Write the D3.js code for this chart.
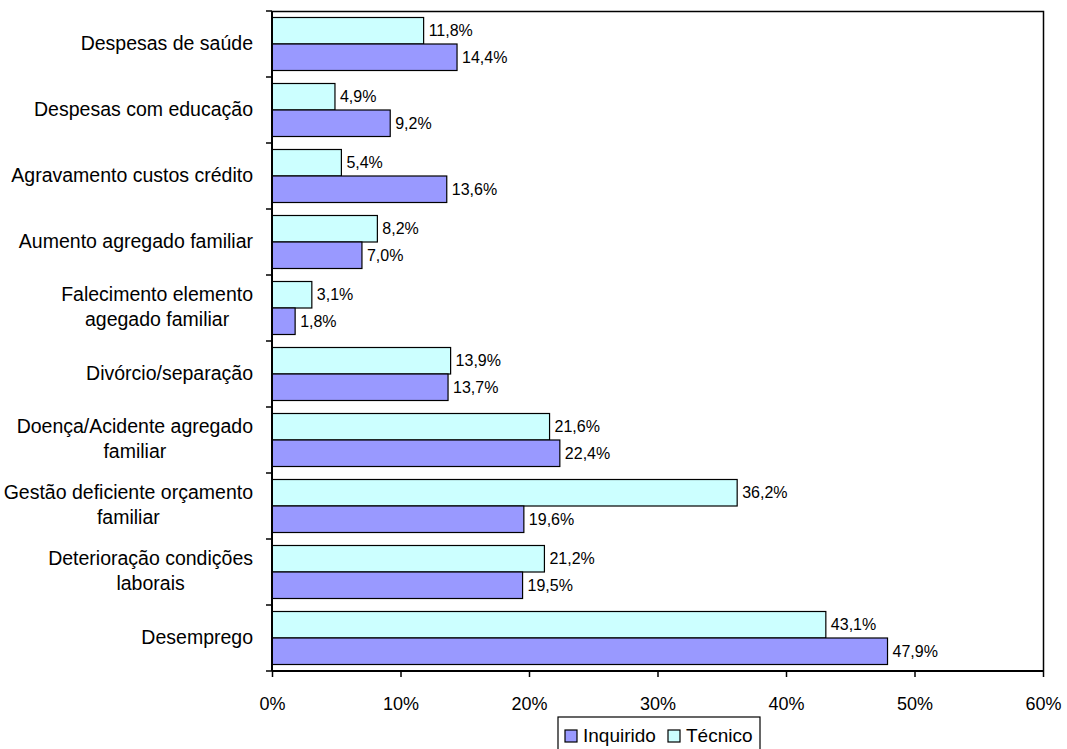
<!DOCTYPE html>
<html>
<head>
<meta charset="utf-8">
<script src="https://cdn.jsdelivr.net/npm/d3@7"></script>
<style>
  body { margin: 0; background: #fff; }
  text { font-family: "Liberation Sans", Arial, sans-serif; fill: #000; }
</style>
</head>
<body>
<div id="chart"></div>
<script>
// categories, top to bottom (label lines)
const categories = [
    ["Despesas de saúde"],
    ["Despesas com educação"],
    ["Agravamento custos crédito"],
    ["Aumento agregado familiar"],
    ["Falecimento elemento", "agegado familiar"],
    ["Divórcio/separação"],
    ["Doença/Acidente agregado", "familiar"],
    ["Gestão deficiente orçamento", "familiar"],
    ["Deterioração condições", "laborais"],
    ["Desemprego"]
];
const tecnico   = [11.8, 4.9, 5.4, 8.2, 3.1, 13.9, 21.6, 36.2, 21.2, 43.1];
const inquirido = [14.4, 9.2, 13.6, 7.0, 1.8, 13.7, 22.4, 19.6, 19.5, 47.9];
const xTicks = [0, 10, 20, 30, 40, 50, 60];
const seriesNames = ["Inquirido", "Técnico"];
const seriesColors = ["#9999FF", "#CCFFFF"];

const width = 1067, height = 749;
const margin = {top: 11, right: 24, bottom: 78, left: 272};
const plotW = width - margin.left - margin.right;
const plotH = height - margin.top - margin.bottom;

const svg = d3.select("#chart")
    .append("svg")
    .attr("width", width)
    .attr("height", height)
    .append("g")
    .attr("transform", `translate(${margin.left}, ${margin.top})`);

const x = d3.scaleLinear().domain([0, 60]).range([0, plotW]);
const y = d3.scaleBand()
    .domain(d3.range(categories.length))
    .range([0, plotH])
    .paddingInner(0.197)
    .paddingOuter(0.0985);

const fmt = v => v.toFixed(1).replace(".", ",") + "%";

// frame top + right
svg.append("path")
    .attr("d", `M0,0.5H${plotW + 0.5}V${plotH}`)
    .attr("fill", "none")
    .attr("stroke", "#000")
    .attr("stroke-width", 1.5);

// bars
const rows = categories.map((c, i) => ({i: i, tec: tecnico[i], inq: inquirido[i]}));
const half = y.bandwidth() / 2;

const groups = svg.selectAll("g.row").data(rows).enter()
    .append("g").attr("class", "row")
    .attr("transform", d => `translate(0, ${y(d.i)})`);

groups.append("rect")
    .attr("x", 0).attr("y", 0)
    .attr("width", d => x(d.tec)).attr("height", half)
    .attr("fill", seriesColors[1]).attr("stroke", "#000").attr("stroke-width", 1.2);
groups.append("rect")
    .attr("x", 0).attr("y", half)
    .attr("width", d => x(d.inq)).attr("height", half)
    .attr("fill", seriesColors[0]).attr("stroke", "#000").attr("stroke-width", 1.2);

groups.append("text")
    .attr("x", d => x(d.tec) + 5).attr("y", half / 2)
    .attr("dy", "0.35em").style("font-size", "16px")
    .text(d => fmt(d.tec));
groups.append("text")
    .attr("x", d => x(d.inq) + 5).attr("y", half * 1.5)
    .attr("dy", "0.35em").style("font-size", "16px")
    .text(d => fmt(d.inq));

// left axis: line + ticks at band boundaries
svg.append("line")
    .attr("x1", 0).attr("x2", 0).attr("y1", 0).attr("y2", plotH)
    .attr("stroke", "#000").attr("stroke-width", 2);
const step = plotH / categories.length;
svg.selectAll("line.ytick").data(d3.range(categories.length + 1)).enter()
    .append("line").attr("class", "ytick")
    .attr("x1", -6).attr("x2", 0)
    .attr("y1", d => d * step).attr("y2", d => d * step)
    .attr("stroke", "#000").attr("stroke-width", 1.5);

// category labels (block right-aligned, lines centered)
const labelRight = -19;
categories.forEach((lines, i) => {
    const g = svg.append("g");
    const lh = 25;
    const cy = y(i) + y.bandwidth() / 2 - 1;
    const texts = lines.map((ln, k) => g.append("text")
        .attr("y", cy + (k - (lines.length - 1) / 2) * lh)
        .attr("dy", "0.35em")
        .style("font-size", "19.5px")
        .attr("text-anchor", "middle")
        .text(ln));
    const maxW = d3.max(texts, t => t.node().getComputedTextLength());
    texts.forEach(t => t.attr("x", labelRight - maxW / 2));
});

// bottom axis
const xAxis = svg.append("g")
    .attr("transform", `translate(0, ${plotH})`)
    .call(d3.axisBottom(x).tickValues(xTicks).tickSize(6).tickPadding(20)
        .tickFormat(d => d + "%"));
xAxis.select(".domain").attr("stroke-width", 2).attr("d", `M0,0H${plotW}`);
xAxis.selectAll(".tick line").attr("stroke-width", 1.5);
xAxis.selectAll("text").style("font-size", "18px").attr("font-family", null);

// legend
const legend = svg.append("g")
    .attr("transform", `translate(${558 - margin.left}, ${717 - margin.top})`);
legend.append("rect")
    .attr("x", 0).attr("y", 0).attr("width", 202).attr("height", 38)
    .attr("fill", "#fff").attr("stroke", "#000").attr("stroke-width", 1.2);
const itemX = [7, 110];
seriesNames.forEach((s, k) => {
    legend.append("rect")
        .attr("x", itemX[k]).attr("y", 13).attr("width", 12).attr("height", 12)
        .attr("fill", seriesColors[k]).attr("stroke", "#000").attr("stroke-width", 1.2);
    legend.append("text")
        .attr("x", itemX[k] + 18).attr("y", 25)
        .style("font-size", "19px")
        .text(s);
});
</script>
</body>
</html>
